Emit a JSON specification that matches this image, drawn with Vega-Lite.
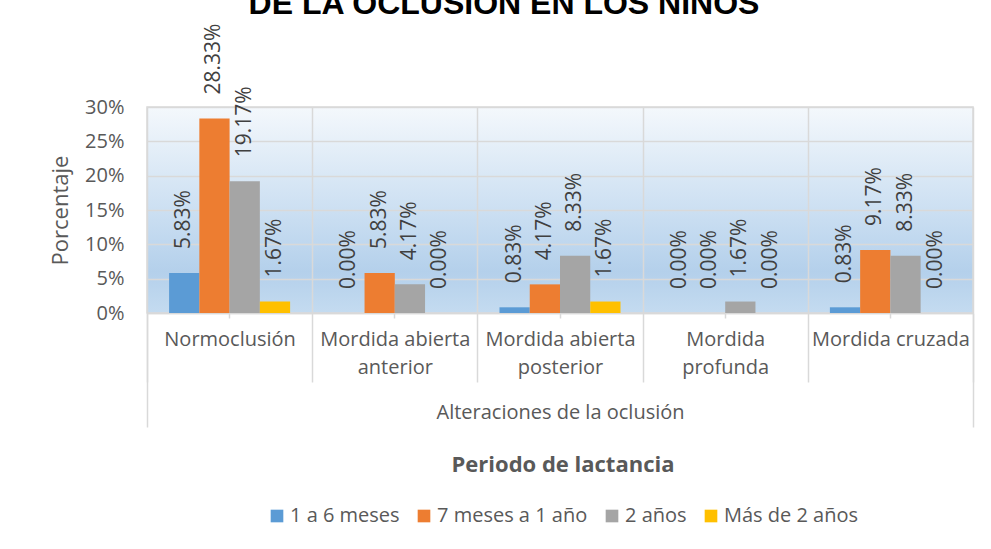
{
  "$schema": "https://vega.github.io/schema/vega-lite/v6.json",
  "width": 826,
  "height": 206,
  "autosize": "none",
  "padding": {"left": 147, "top": 107, "right": 18, "bottom": 236},
  "background": "#ffffff",
  "title": {"text": "DE LA OCLUSIÓN EN LOS NIÑOS", "font": "Liberation Sans", "fontSize": 32, "fontWeight": "bold", "color": "#000000", "anchor": "middle", "dx": -56, "offset": 3},
  "data": {
    "values": [
      {"alteracion": "Normoclusión", "periodo": "1 a 6 meses", "porcentaje": 0.0583},
      {"alteracion": "Normoclusión", "periodo": "7 meses a 1 año", "porcentaje": 0.2833},
      {"alteracion": "Normoclusión", "periodo": "2 años", "porcentaje": 0.1917},
      {"alteracion": "Normoclusión", "periodo": "Más de 2 años", "porcentaje": 0.0167},
      {"alteracion": "Mordida abierta anterior", "periodo": "1 a 6 meses", "porcentaje": 0.0},
      {"alteracion": "Mordida abierta anterior", "periodo": "7 meses a 1 año", "porcentaje": 0.0583},
      {"alteracion": "Mordida abierta anterior", "periodo": "2 años", "porcentaje": 0.0417},
      {"alteracion": "Mordida abierta anterior", "periodo": "Más de 2 años", "porcentaje": 0.0},
      {"alteracion": "Mordida abierta posterior", "periodo": "1 a 6 meses", "porcentaje": 0.0083},
      {"alteracion": "Mordida abierta posterior", "periodo": "7 meses a 1 año", "porcentaje": 0.0417},
      {"alteracion": "Mordida abierta posterior", "periodo": "2 años", "porcentaje": 0.0833},
      {"alteracion": "Mordida abierta posterior", "periodo": "Más de 2 años", "porcentaje": 0.0167},
      {"alteracion": "Mordida profunda", "periodo": "1 a 6 meses", "porcentaje": 0.0},
      {"alteracion": "Mordida profunda", "periodo": "7 meses a 1 año", "porcentaje": 0.0},
      {"alteracion": "Mordida profunda", "periodo": "2 años", "porcentaje": 0.0167},
      {"alteracion": "Mordida profunda", "periodo": "Más de 2 años", "porcentaje": 0.0},
      {"alteracion": "Mordida cruzada", "periodo": "1 a 6 meses", "porcentaje": 0.0083},
      {"alteracion": "Mordida cruzada", "periodo": "7 meses a 1 año", "porcentaje": 0.0917},
      {"alteracion": "Mordida cruzada", "periodo": "2 años", "porcentaje": 0.0833},
      {"alteracion": "Mordida cruzada", "periodo": "Más de 2 años", "porcentaje": 0.0}
    ]
  },
  "encoding": {
    "xOffset": {
      "field": "periodo",
      "type": "nominal",
      "sort": ["1 a 6 meses", "7 meses a 1 año", "2 años", "Más de 2 años"],
      "scale": {"paddingInner": 0, "paddingOuter": 0.73}
    },
    "y": {
      "field": "porcentaje",
      "type": "quantitative",
      "scale": {"domain": [0, 0.3]},
      "axis": {
        "title": "Porcentaje",
        "titleFontSize": 22,
        "titleFontWeight": "normal",
        "titleColor": "#595959",
        "titlePadding": 12,
        "values": [0, 0.05, 0.1, 0.15, 0.2, 0.25, 0.3],
        "format": ".0%",
        "labelFontSize": 20,
        "labelColor": "#595959",
        "labelPadding": 23,
        "ticks": false,
        "domain": false,
        "gridColor": "#d9d9d9",
        "gridWidth": 1.5
      }
    }
  },
  "layer": [
    {
      "mark": {"type": "bar"},
      "encoding": {
        "x": {
          "field": "alteracion",
          "type": "nominal",
          "sort": ["Normoclusión", "Mordida abierta anterior", "Mordida abierta posterior", "Mordida profunda", "Mordida cruzada"],
          "scale": {"paddingInner": 0, "paddingOuter": 0},
          "axis": {
            "orient": "bottom",
            "title": "Alteraciones de la oclusión",
            "titleFontSize": 20,
            "titleFontWeight": "normal",
            "titleColor": "#595959",
            "titleBaseline": "middle",
            "titleY": 99,
            "labelAngle": 0,
            "labelFontSize": 20,
            "labelColor": "#595959",
            "labelLineHeight": 28,
            "labelPadding": -53,
            "labelExpr": "datum.value === 'Mordida abierta anterior' ? ['Mordida abierta', 'anterior'] : datum.value === 'Mordida abierta posterior' ? ['Mordida abierta', 'posterior'] : datum.value === 'Mordida profunda' ? ['Mordida', 'profunda'] : datum.value",
            "tickBand": "extent",
            "tickSize": 69,
            "tickColor": "#d9d9d9",
            "tickWidth": 1.5,
            "grid": true,
            "gridColor": "#d9d9d9",
            "gridWidth": 1.5,
            "domainColor": "#d9d9d9",
            "domainWidth": 1.5
          }
        },
        "color": {
          "field": "periodo",
          "type": "nominal",
          "sort": ["1 a 6 meses", "7 meses a 1 año", "2 años", "Más de 2 años"],
          "scale": {"domain": ["1 a 6 meses", "7 meses a 1 año", "2 años", "Más de 2 años"], "range": ["#5b9bd5", "#ed7d31", "#a5a5a5", "#ffc000"]},
          "legend": {
            "title": "Periodo de lactancia",
            "orient": "none",
            "legendX": 120,
            "legendY": 348,
            "direction": "horizontal",
            "padding": 0,
            "titleAnchor": "middle",
            "titleLimit": 500,
            "titleFontSize": 22,
            "titleFontWeight": "bold",
            "titleColor": "#595959",
            "titlePadding": 29,
            "labelFontSize": 20,
            "labelColor": "#595959",
            "labelOffset": 3,
            "labelLimit": 300,
            "symbolType": "square",
            "symbolSize": 160,
            "symbolStrokeWidth": 0,
            "columnPadding": 14
          }
        }
      }
    },
    {
      "mark": {"type": "text", "angle": 270, "align": "left", "baseline": "middle", "dx": 24, "fontSize": 21, "color": "#404040"},
      "encoding": {
        "x": {
          "field": "alteracion",
          "type": "nominal",
          "sort": ["Normoclusión", "Mordida abierta anterior", "Mordida abierta posterior", "Mordida profunda", "Mordida cruzada"],
          "axis": {
            "orient": "bottom",
            "title": null,
            "labels": false,
            "grid": false,
            "domain": false,
            "values": ["Normoclusión"],
            "bandPosition": 0,
            "tickSize": 114,
            "tickColor": "#d9d9d9",
            "tickWidth": 1.5
          }
        },
        "text": {"field": "porcentaje", "type": "quantitative", "format": ".2%"}
      }
    },
    {
      "mark": {"type": "bar", "opacity": 0},
      "encoding": {
        "x": {
          "field": "alteracion",
          "type": "nominal",
          "sort": ["Normoclusión", "Mordida abierta anterior", "Mordida abierta posterior", "Mordida profunda", "Mordida cruzada"],
          "axis": {
            "orient": "bottom",
            "title": null,
            "labels": false,
            "grid": false,
            "domain": false,
            "values": ["Mordida cruzada"],
            "bandPosition": 1,
            "tickSize": 114,
            "tickColor": "#d9d9d9",
            "tickWidth": 1.5
          }
        }
      }
    },
    {
      "mark": {"type": "bar", "opacity": 0},
      "encoding": {
        "x": {
          "field": "alteracion",
          "type": "nominal",
          "sort": ["Normoclusión", "Mordida abierta anterior", "Mordida abierta posterior", "Mordida profunda", "Mordida cruzada"],
          "axis": {
            "orient": "bottom",
            "title": null,
            "labels": false,
            "grid": false,
            "domain": false,
            "bandPosition": 0.5,
            "tickSize": 5,
            "tickColor": "#d9d9d9",
            "tickWidth": 1.5
          }
        }
      }
    }
  ],
  "resolve": {"axis": {"x": "independent"}},
  "config": {
    "font": "Open Sans",
    "view": {
      "stroke": "#d9d9d9",
      "strokeWidth": 1.5,
      "fill": {"gradient": "linear", "x1": 0, "y1": 0, "x2": 0, "y2": 1, "stops": [{"offset": 0, "color": "#f4f8fc"}, {"offset": 0.55, "color": "#c8ddf1"}, {"offset": 0.8, "color": "#b4d0eb"}, {"offset": 1, "color": "#c4dbf0"}]}
    }
  }
}
